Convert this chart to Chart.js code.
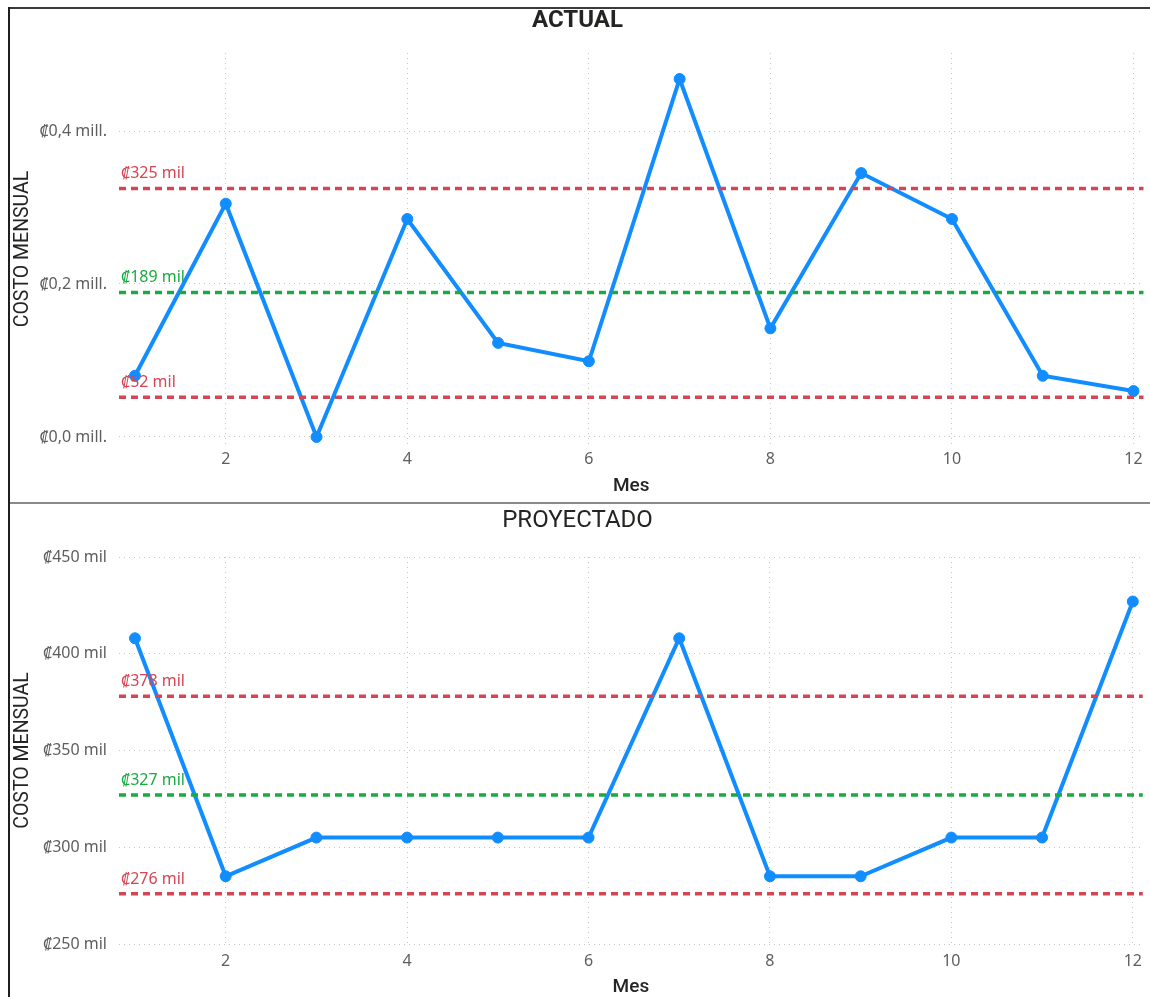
<!DOCTYPE html>
<html>
<head>
<meta charset="utf-8">
<script src="https://cdn.jsdelivr.net/npm/chart.js@4/dist/chart.umd.min.js"></script>
<style>
  html, body { margin: 0; padding: 0; background: #ffffff; }
  body { width: 1150px; height: 997px; position: relative; overflow: hidden; }
  .frame-left { position: absolute; left: 8px; top: 7px; width: 2px; height: 990px; background: #1f1f1f; }
  .frame-top { position: absolute; left: 8px; top: 7px; width: 1142px; height: 2px; background: #3a3a3a; }
  .divider { position: absolute; left: 10px; top: 502px; width: 1140px; height: 2px; background: #8a8a8a; }
  .panel { position: absolute; left: 10px; width: 1140px; height: 493px; }
  #panelActual { top: 9px; }
  #panelProyectado { top: 504px; }
</style>
</head>
<body>
<div class="frame-top"></div>
<div class="frame-left"></div>
<div class="divider"></div>
<div class="panel" id="panelActual"><canvas id="chartActual"></canvas></div>
<div class="panel" id="panelProyectado"><canvas id="chartProyectado"></canvas></div>

<script>
// Meses del año
const meses = [1, 2, 3, 4, 5, 6, 7, 8, 9, 10, 11, 12];
const mesTicks = [2, 4, 6, 8, 10, 12];

// Costo mensual actual (miles de colones)
const costoActual = [80, 305, 0, 285, 123, 99, 468, 142, 345, 285, 80, 60];
// Promedio y límites del costo actual
const actualPromedio = 189;
const actualLimites = [325, 52];
const actualTicks = [0, 200, 400];
const actualTickLabels = ['₡0,0 mill.', '₡0,2 mill.', '₡0,4 mill.'];

// Costo mensual proyectado (miles de colones)
const costoProyectado = [408, 285, 305, 305, 305, 305, 408, 285, 285, 305, 305, 427];
// Promedio y límites del costo proyectado
const proyPromedio = 327;
const proyLimites = [378, 276];
const proyTicks = [250, 300, 350, 400, 450];
const proyTickLabels = ['₡250 mil', '₡300 mil', '₡350 mil', '₡400 mil', '₡450 mil'];

const AZUL = '#118DFF';
const ROJO = '#D64554';
const VERDE = '#1AAB40';
const GRIS_TEXTO = '#605E5C';
const TEXTO_OSCURO = '#252423';
const LABEL_FONT = "'Noto Sans', 'Open Sans', 'DejaVu Sans', sans-serif";
const TITLE_FONT = "Roboto, 'DejaVu Sans', sans-serif";

// Líneas de referencia horizontales dibujadas sobre la serie
const referencePlugin = {
  id: 'referenceLines',
  afterDatasetsDraw(chart, args, opts) {
    const { ctx, chartArea } = chart;
    const y = chart.scales.y;
    ctx.save();
    (opts.lines || []).forEach(line => {
      const py = y.getPixelForValue(line.value);
      ctx.beginPath();
      ctx.setLineDash([7, 5]);
      ctx.lineWidth = 3.5;
      ctx.strokeStyle = line.color;
      ctx.moveTo(chartArea.left, py);
      ctx.lineTo(chartArea.right, py);
      ctx.stroke();
      ctx.setLineDash([]);
      ctx.fillStyle = line.color;
      ctx.font = '16px ' + LABEL_FONT;
      ctx.textAlign = 'left';
      ctx.textBaseline = 'alphabetic';
      ctx.fillText('₡' + line.value + ' mil', chartArea.left + 2, py - 10);
    });
    ctx.restore();
  }
};

function buildChart(canvasId, cfg) {
  const points = meses.map((m, i) => ({ x: m, y: cfg.values[i] }));
  return new Chart(document.getElementById(canvasId), {
    type: 'line',
    data: {
      datasets: [{
        data: points,
        borderColor: AZUL,
        backgroundColor: AZUL,
        borderWidth: 4,
        pointRadius: 5.5,
        pointBorderWidth: 1,
        pointHoverRadius: 5.5,
        tension: 0
      }]
    },
    options: {
      responsive: true,
      maintainAspectRatio: false,
      animation: false,
      layout: { padding: { left: 0, right: 5, top: 0, bottom: 0 } },
      plugins: {
        legend: { display: false },
        tooltip: { enabled: false },
        title: {
          display: true,
          text: cfg.title,
          color: TEXTO_OSCURO,
          font: { family: TITLE_FONT, size: 24, weight: cfg.titleWeight, lineHeight: 1 },
          padding: cfg.titlePadding
        },
        referenceLines: {
          lines: [
            { value: cfg.limits[0], color: ROJO },
            { value: cfg.mean, color: VERDE },
            { value: cfg.limits[1], color: ROJO }
          ]
        }
      },
      scales: {
        x: {
          type: 'linear',
          min: 0.824,
          max: 12.11,
          afterBuildTicks: s => { s.ticks = mesTicks.map(v => ({ value: v })); },
          afterFit: s => { s.height = cfg.xHeight; },
          ticks: {
            color: GRIS_TEXTO,
            font: { family: LABEL_FONT, size: 16 },
            padding: cfg.xTickPad,
            maxRotation: 0
          },
          grid: { color: '#c8c6c4', lineWidth: 1, drawTicks: false },
          border: { display: false, dash: [1, 4] },
          title: {
            display: true,
            text: 'Mes',
            color: TEXTO_OSCURO,
            font: { family: TITLE_FONT, size: 19, weight: '500' },
            padding: { top: 0, bottom: cfg.xTitlePad }
          }
        },
        y: {
          min: cfg.yMin,
          max: cfg.yMax,
          afterBuildTicks: s => { s.ticks = cfg.ticks.map(v => ({ value: v })); },
          afterFit: s => { s.width = 109; },
          ticks: {
            color: GRIS_TEXTO,
            font: { family: LABEL_FONT, size: 16 },
            padding: 12,
            callback: (v) => cfg.tickLabels[cfg.ticks.indexOf(v)]
          },
          grid: { color: '#c8c6c4', lineWidth: 1, drawTicks: false },
          border: { display: false, dash: [1, 4] },
          title: {
            display: true,
            text: 'COSTO MENSUAL',
            color: TEXTO_OSCURO,
            font: { family: TITLE_FONT, size: 19.5 },
            padding: { top: 1, bottom: 0 }
          }
        }
      }
    },
    plugins: [referencePlugin]
  });
}

buildChart('chartActual', {
  title: 'ACTUAL',
  titleWeight: 'bold',
  titlePadding: { top: 0, bottom: 20 },
  values: costoActual,
  mean: actualPromedio,
  limits: actualLimites,
  ticks: actualTicks,
  tickLabels: actualTickLabels,
  yMin: -10.5,
  yMax: 502,
  xHeight: 57,
  xTickPad: 5,
  xTitlePad: 4
});

buildChart('chartProyectado', {
  title: 'PROYECTADO',
  titleWeight: 'normal',
  titlePadding: { top: 5, bottom: 24 },
  values: costoProyectado,
  mean: proyPromedio,
  limits: proyLimites,
  ticks: proyTicks,
  tickLabels: proyTickLabels,
  yMin: 250,
  yMax: 450,
  xHeight: 53,
  xTickPad: 8,
  xTitlePad: -2
});
</script>
</body>
</html>
